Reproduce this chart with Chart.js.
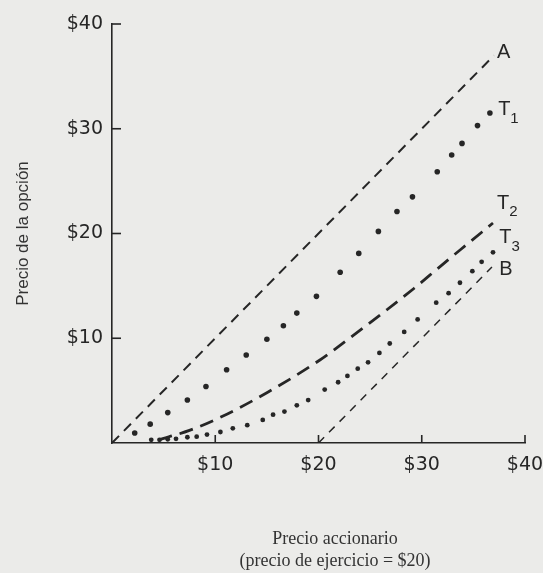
<!DOCTYPE html>
<html>
<head>
<meta charset="utf-8">
<script src="https://cdn.jsdelivr.net/npm/chart.js@4"></script>
<style>
  html, body { margin: 0; padding: 0; background: #ebebe9; }
  #wrap { width: 543px; height: 573px; }
</style>
</head>
<body>
<div id="wrap"><canvas id="c" width="543" height="573"></canvas></div>
<script>
// data (stock price vs option price)
const xTickVals = [10, 20, 30, 40];
const yTickVals = [10, 20, 30, 40];
const tickLabels = { 10: '$10', 20: '$20', 30: '$30', 40: '$40' };

const lineAX = [0, 37];
const lineAY = [0, 37];
const lineBX = [20, 36.8];
const lineBY = [0, 16.8];

const t1X = [2.2, 3.7, 5.4, 7.3, 9.1, 11.1, 13.0, 15.0, 16.6, 17.9, 19.8, 22.1, 23.9, 25.8, 27.6, 29.1, 31.5, 32.9, 33.9, 35.4, 36.6];
const t1Y = [0.95, 1.8, 2.9, 4.1, 5.4, 7.0, 8.4, 9.9, 11.2, 12.4, 14.0, 16.3, 18.1, 20.2, 22.1, 23.5, 25.9, 27.5, 28.6, 30.3, 31.5];

const t2X = [4.5, 7.5, 10.6, 15.0, 20.1, 23.0, 26.6, 29.3, 31.6, 33.8, 36.9];
const t2Y = [0.3, 1.2, 2.5, 4.8, 7.9, 10.0, 12.7, 14.8, 16.7, 18.5, 21.0];

const t3X = [3.8, 4.6, 5.4, 6.2, 7.3, 8.2, 9.2, 10.5, 11.7, 13.1, 14.6, 15.6, 16.7, 17.9, 19.0, 20.6, 21.9, 22.8, 23.8, 24.8, 25.9, 26.9, 28.3, 29.6, 31.4, 32.6, 33.7, 34.9, 35.8, 36.9];
const t3Y = [0.3, 0.3, 0.35, 0.4, 0.55, 0.6, 0.8, 1.05, 1.4, 1.7, 2.2, 2.7, 3.0, 3.6, 4.1, 5.1, 5.8, 6.4, 7.1, 7.7, 8.6, 9.5, 10.6, 11.8, 13.4, 14.3, 15.3, 16.4, 17.3, 18.2];

// curve labels, placed in data units
const curveNames = ['A', 'T', 'T', 'T', 'B'];
const curveSubs = ['', '1', '2', '3', ''];
const curveLabelX = [37.3, 37.4, 37.3, 37.5, 37.5];
const curveLabelY = [37.3, 31.8, 22.9, 19.6, 16.6];

// x title lines, centred on this x value (sits right of the plot centre)
const xTitleLines = ['Precio accionario', '(precio de ejercicio = $20)'];
const xTitleCenter = 21.6;

const ink = '#262626';
const pts = (xs, ys) => xs.map((x, i) => ({ x: x, y: ys[i] }));

// small ticks drawn inward, curve names, x title
const extras = {
    id: 'extras',
    afterDraw(chart) {
        const ctx = chart.ctx;
        const xs = chart.scales.x, ys = chart.scales.y;
        const area = chart.chartArea;
        ctx.save();
        ctx.strokeStyle = ink;
        ctx.lineWidth = 1.6;
        yTickVals.forEach(v => {
            const py = ys.getPixelForValue(v);
            ctx.beginPath();
            ctx.moveTo(area.left, py);
            ctx.lineTo(area.left + 9, py);
            ctx.stroke();
        });
        xTickVals.forEach(v => {
            const px = xs.getPixelForValue(v);
            ctx.beginPath();
            ctx.moveTo(px, area.bottom);
            ctx.lineTo(px, area.bottom - 8);
            ctx.stroke();
        });

        ctx.fillStyle = ink;
        ctx.textBaseline = 'middle';
        ctx.textAlign = 'left';
        curveNames.forEach((name, i) => {
            const px = xs.getPixelForValue(curveLabelX[i]);
            const py = ys.getPixelForValue(curveLabelY[i]);
            ctx.font = '20px "Liberation Sans"';
            ctx.fillText(name, px, py);
            if (curveSubs[i]) {
                const w = ctx.measureText(name).width;
                ctx.font = '15px "Liberation Sans"';
                ctx.fillText(curveSubs[i], px + w, py + 9);
            }
        });

        ctx.fillStyle = '#333';
        ctx.textAlign = 'center';
        ctx.font = '18px "Liberation Serif"';
        const cx = xs.getPixelForValue(xTitleCenter);
        ctx.fillText(xTitleLines[0], cx, area.bottom + 96);
        ctx.fillText(xTitleLines[1], cx, area.bottom + 118);
        ctx.restore();
    }
};

new Chart(document.getElementById('c'), {
    type: 'scatter',
    data: {
        datasets: [
            {
                label: 'A',
                data: pts(lineAX, lineAY),
                showLine: true,
                borderColor: ink,
                borderWidth: 2,
                borderDash: [10, 7],
                pointRadius: 0
            },
            {
                label: 'B',
                data: pts(lineBX, lineBY),
                showLine: true,
                borderColor: ink,
                borderWidth: 1.5,
                borderDash: [8, 7],
                pointRadius: 0
            },
            {
                label: 'T1',
                data: pts(t1X, t1Y),
                showLine: false,
                pointRadius: 2.8,
                pointBackgroundColor: ink,
                pointBorderWidth: 0
            },
            {
                label: 'T2',
                data: pts(t2X, t2Y),
                showLine: true,
                borderColor: ink,
                borderWidth: 2.8,
                borderDash: [14, 8],
                cubicInterpolationMode: 'monotone',
                pointRadius: 0
            },
            {
                label: 'T3',
                data: pts(t3X, t3Y),
                showLine: false,
                pointRadius: 2.4,
                pointBackgroundColor: ink,
                pointBorderWidth: 0
            }
        ]
    },
    options: {
        responsive: false,
        animation: false,
        layout: { padding: { top: 24, right: 18, left: 0, bottom: 0 } },
        plugins: {
            legend: { display: false },
            tooltip: { enabled: false }
        },
        scales: {
            x: {
                type: 'linear',
                min: 0,
                max: 40,
                afterBuildTicks: s => { s.ticks = xTickVals.map(v => ({ value: v })); },
                afterFit: s => { s.height = 130; s.paddingLeft = 0; s.paddingRight = 0; },
                grid: { display: false, drawTicks: false },
                border: { display: true, color: ink, width: 1.6 },
                ticks: {
                    color: ink,
                    padding: 11,
                    maxRotation: 0,
                    font: { family: '"DejaVu Sans"', size: 19 },
                    callback: v => tickLabels[v] || ''
                }
            },
            y: {
                type: 'linear',
                min: 0,
                max: 40,
                afterBuildTicks: s => { s.ticks = yTickVals.map(v => ({ value: v })); },
                afterFit: s => { s.width = 112; s.paddingTop = 0; s.paddingBottom = 0; },
                grid: { display: false, drawTicks: false },
                border: { display: true, color: ink, width: 1.6 },
                ticks: {
                    color: ink,
                    padding: 9,
                    font: { family: '"DejaVu Sans"', size: 19 },
                    callback: v => tickLabels[v] || ''
                },
                title: {
                    display: true,
                    text: 'Precio de la opción',
                    color: '#333',
                    padding: { top: 13, bottom: 8 },
                    font: { family: '"Liberation Sans"', size: 17 }
                }
            }
        }
    },
    plugins: [extras]
});
</script>
</body>
</html>
